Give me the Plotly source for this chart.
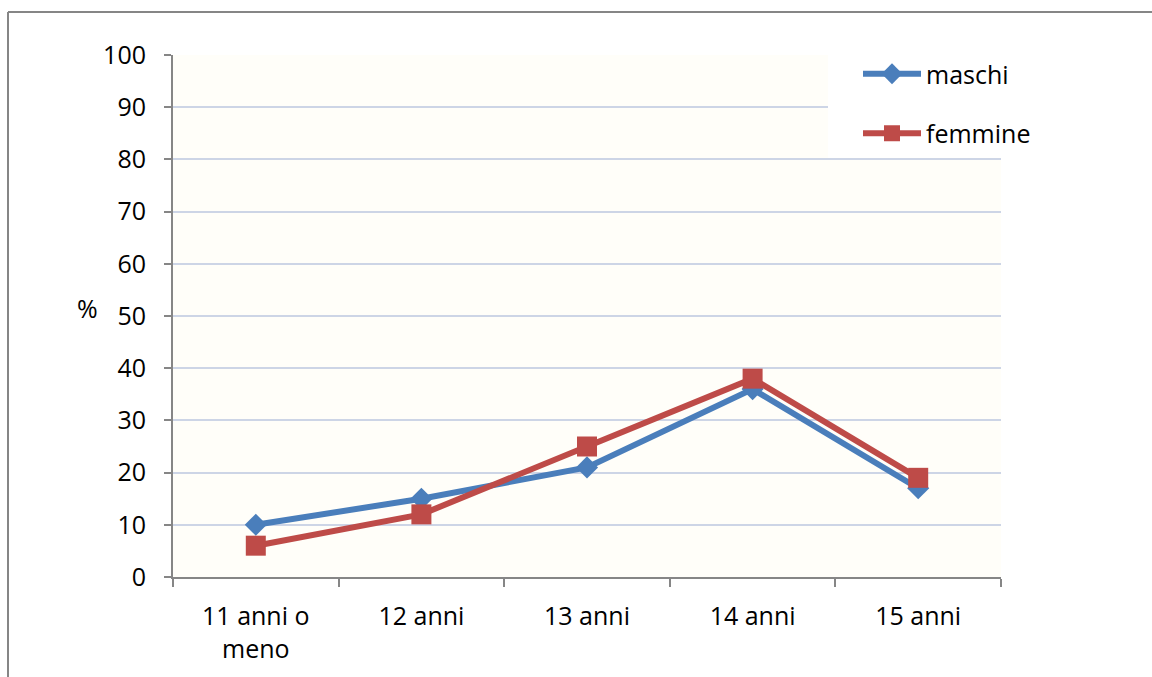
import plotly.graph_objects as go

categories = ["11 anni o<br>meno", "12 anni", "13 anni", "14 anni", "15 anni"]
maschi = [10, 15, 21, 36, 17]
femmine = [6, 12, 25, 38, 19]
y_ticks = [0, 10, 20, 30, 40, 50, 60, 70, 80, 90, 100]

FONT = "Open Sans"
FS = 25
BLUE = "#4A7EBB"
RED = "#BE4B48"
AXIS = "#868686"
GRID = "#CDD5E6"

fig = go.Figure()
fig.add_trace(go.Scatter(
    x=categories, y=maschi, name="maschi", mode="lines+markers",
    legendgroup="m",
    line=dict(color=BLUE, width=6),
    marker=dict(symbol="diamond", size=17, color=BLUE),
))
fig.add_trace(go.Scatter(
    x=categories, y=femmine, name="femmine", mode="lines+markers",
    legendgroup="f",
    line=dict(color=RED, width=6),
    marker=dict(symbol="square", size=20, color=RED),
))

L, R, T, B = 173, 151, 55, 100
W, H = 1152, 677
pw, ph = W - L - R, H - T - B

def px_x(p):
    return (p - L) / pw

def px_y(p):
    return (H - B - p) / ph

shapes = [
    # white panel behind the legend, covering the upper-right gridlines
    dict(type="rect", xref="paper", yref="y", x0=px_x(828), x1=px_x(1004),
         y0=80.3, y1=101, fillcolor="white", line=dict(width=0), layer="above"),
    # outer chart frame (top and left edges)
    dict(type="line", xref="paper", yref="paper", x0=px_x(8), x1=px_x(1170),
         y0=px_y(12), y1=px_y(12), line=dict(color=AXIS, width=2)),
    dict(type="line", xref="paper", yref="paper", x0=px_x(8), x1=px_x(8),
         y0=px_y(12), y1=px_y(700), line=dict(color=AXIS, width=2)),
]

fig.update_layout(
    width=W, height=H,
    margin=dict(l=L, r=R, t=T, b=B),
    paper_bgcolor="white",
    plot_bgcolor="#FFFEF9",
    font=dict(family=FONT, size=FS, color="black"),
    showlegend=True,
    legend=dict(
        x=px_x(858), y=px_y(51), xanchor="left", yanchor="top",
        bgcolor="rgba(0,0,0,0)", itemwidth=58, tracegroupgap=24,
        traceorder="grouped",
        font=dict(family=FONT, size=FS, color="black"),
    ),
    shapes=shapes,
    annotations=[dict(
        text="%", xref="paper", yref="paper", x=px_x(75), y=px_y(308),
        showarrow=False, font=dict(family=FONT, size=FS, color="black"),
    )],
)

fig.update_xaxes(
    type="category", range=[-0.5, 4.5], tickson="boundaries",
    ticks="outside", ticklen=8,
    tickcolor=AXIS, tickwidth=2, showline=True, linecolor=AXIS, linewidth=2,
    showgrid=False, ticklabelstandoff=16,
    tickfont=dict(family=FONT, size=FS, color="black"),
)
fig.update_yaxes(
    range=[0, 100], tickvals=y_ticks, ticks="outside", ticklen=7,
    tickcolor=AXIS, tickwidth=2, showline=True, linecolor=AXIS, linewidth=2,
    showgrid=True, gridcolor=GRID, gridwidth=2, zeroline=False,
    ticklabelstandoff=13,
    tickfont=dict(family=FONT, size=FS, color="black"),
)

fig.write_html("out.html")
